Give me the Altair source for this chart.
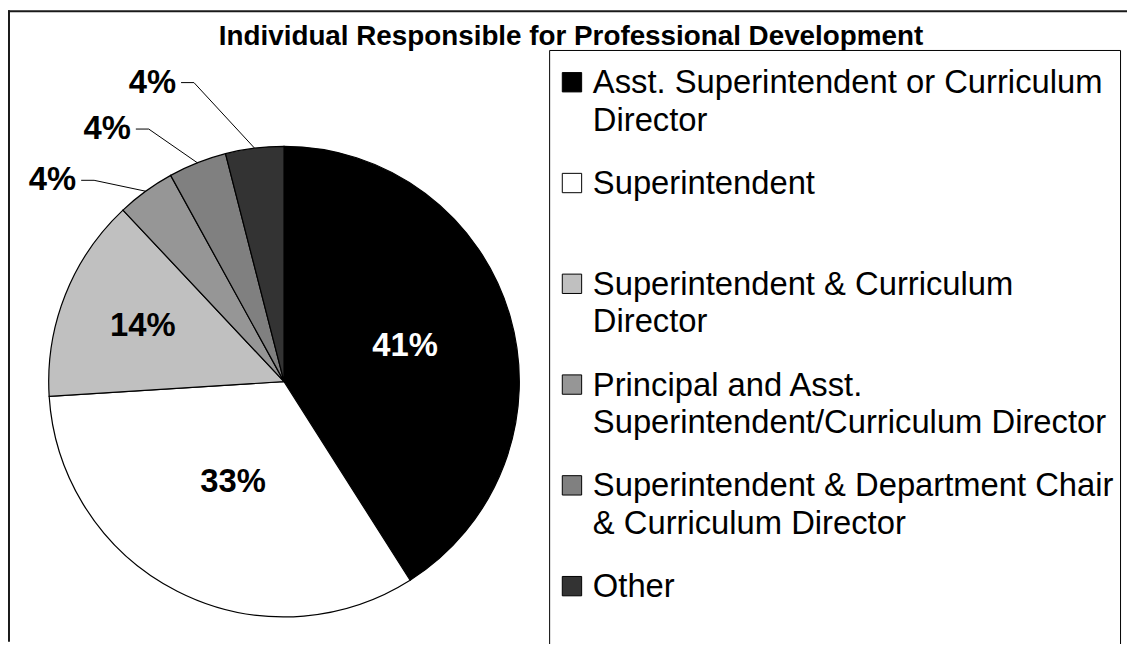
import math
import altair as alt
import pandas as pd

# ---------------- data ----------------
categories = [
    "Asst. Superintendent or Curriculum Director",
    "Superintendent",
    "Superintendent & Curriculum Director",
    "Principal and Asst. Superintendent/Curriculum Director",
    "Superintendent & Department Chair & Curriculum Director",
    "Other",
]
legend_labels = [
    "Asst. Superintendent or Curriculum\nDirector",
    "Superintendent",
    "Superintendent & Curriculum\nDirector",
    "Principal and Asst.\nSuperintendent/Curriculum Director",
    "Superintendent & Department Chair\n& Curriculum Director",
    "Other",
]
percentages = [41, 33, 14, 4, 4, 4]
slice_colors = ["#000000", "#ffffff", "#c0c0c0", "#969696", "#808080", "#333333"]
title_text = "Individual Responsible for Professional Development"

# ---------------- layout / style ----------------
W, H = 1127, 636
CX, CY, R = 278, 374, 237
FONT = "Liberation Sans"
SMALL = 10  # slices below this share get outside labels
INSIDE_RADIUS = [127, 113, 153]   # label distance from centre for big slices (style)
INSIDE_COLOR = ["white", "black", "black"]
LEADER_DX = [-52, -49, -61]
LEADER_DY = [-11, -34, -66]
LEADER_TAIL = 13
LABEL_GAP = 5

df = pd.DataFrame({
    "cat": categories,
    "legend": legend_labels,
    "value": percentages,
    "idx": list(range(len(categories))),
})

# label / leader geometry computed from slice mid-angles
total = sum(percentages)
line_rows, out_rows, in_rows = [], [], []
cum = 0
k = 0
b = 0
for cat, v in zip(categories, percentages):
    mid = 2 * math.pi * (cum + v / 2) / total
    cum += v
    if v >= SMALL:
        rr = INSIDE_RADIUS[b]
        in_rows.append({"cat": cat, "lx": CX + rr * math.sin(mid), "ly": CY - rr * math.cos(mid),
                        "txt": f"{v}%", "col": INSIDE_COLOR[b]})
        b += 1
        continue
    ax = CX + R * math.sin(mid)
    ay = CY - R * math.cos(mid)
    ex, ey = ax + LEADER_DX[k], ay + LEADER_DY[k]
    tx, ty = ex - LEADER_TAIL, ey
    for j, (px, py) in enumerate([(ax, ay), (ex, ey), (tx, ty)]):
        line_rows.append({"cat": cat, "j": j, "px": px, "py": py})
    out_rows.append({"cat": cat, "lx": tx - LABEL_GAP, "ly": ty, "txt": f"{v}%"})
    k += 1
lines_df = pd.DataFrame(line_rows)
out_df = pd.DataFrame(out_rows)
in_df = pd.DataFrame(in_rows)

color_scale = alt.Scale(domain=categories, range=slice_colors)
xs = alt.Scale(domain=[0, W], nice=False, zero=False)
ys = alt.Scale(domain=[0, H], nice=False, zero=False, reverse=True)
leg_scale = alt.Scale(type="point", domain=categories, range=[72.5, 580], padding=0)

one = pd.DataFrame({"a": [0]})

border_top = alt.Chart(one).mark_rule(color="#1a1a1a", strokeWidth=2).encode(
    x=alt.value(0), x2=alt.value(W), y=alt.value(1))
border_left = alt.Chart(one).mark_rule(color="#1a1a1a", strokeWidth=2).encode(
    x=alt.value(1), y=alt.value(0), y2=alt.value(H))

legend_box = alt.Chart(one).mark_rect(filled=False, stroke="black", strokeWidth=1).encode(
    x=alt.value(545.5), x2=alt.value(1120.5), y=alt.value(40.5), y2=alt.value(H + 30))

arcs = alt.Chart(df).mark_arc(outerRadius=R, stroke="black", strokeWidth=1.2).encode(
    theta=alt.Theta("value:Q", stack=True),
    order=alt.Order("idx:Q"),
    x=alt.value(CX),
    y=alt.value(CY),
    color=alt.Color("cat:N", scale=color_scale, legend=None),
)

inside = alt.Chart(in_df).mark_text(
    align="center", baseline="middle", fontSize=33, fontWeight="bold", font=FONT
).encode(
    x=alt.X("lx:Q", scale=xs, axis=None),
    y=alt.Y("ly:Q", scale=ys, axis=None),
    text="txt:N",
    color=alt.Color("col:N", scale=None),
)

leaders = alt.Chart(lines_df).mark_line(color="black", strokeWidth=1).encode(
    x=alt.X("px:Q", scale=xs, axis=None),
    y=alt.Y("py:Q", scale=ys, axis=None),
    detail="cat:N",
    order="j:Q",
)
out_labels = alt.Chart(out_df).mark_text(
    align="right", baseline="middle", fontSize=33, fontWeight="bold", font=FONT, color="black"
).encode(
    x=alt.X("lx:Q", scale=xs, axis=None),
    y=alt.Y("ly:Q", scale=ys, axis=None),
    text="txt:N",
)

squares = alt.Chart(df).mark_square(size=380, stroke="black", strokeWidth=1, opacity=1).encode(
    x=alt.value(568),
    y=alt.Y("cat:N", scale=leg_scale, axis=None),
    color=alt.Color("cat:N", scale=color_scale, legend=None),
)
leg_text = alt.Chart(df).mark_text(
    align="left", baseline="alphabetic", dy=11, fontSize=33, lineBreak="\n",
    lineHeight=38, font=FONT, color="black"
).encode(
    x=alt.value(589),
    y=alt.Y("cat:N", scale=leg_scale, axis=None),
    text="legend:N",
)

title = alt.Chart(pd.DataFrame({"t": [title_text]})).mark_text(
    fontSize=28, fontWeight="bold", font=FONT, baseline="alphabetic", align="center", color="black"
).encode(x=alt.value(567), y=alt.value(35), text="t:N")

chart = alt.layer(
    border_top, border_left, legend_box, arcs, inside, leaders, out_labels, squares, leg_text, title
).resolve_scale(x="independent", y="independent", color="independent").properties(
    width=W, height=H, autosize=alt.AutoSizeParams(type="none"), padding=0, background="white"
).configure_view(stroke=None)

chart.save("out.html", embed_options={"renderer": "svg", "actions": False})
